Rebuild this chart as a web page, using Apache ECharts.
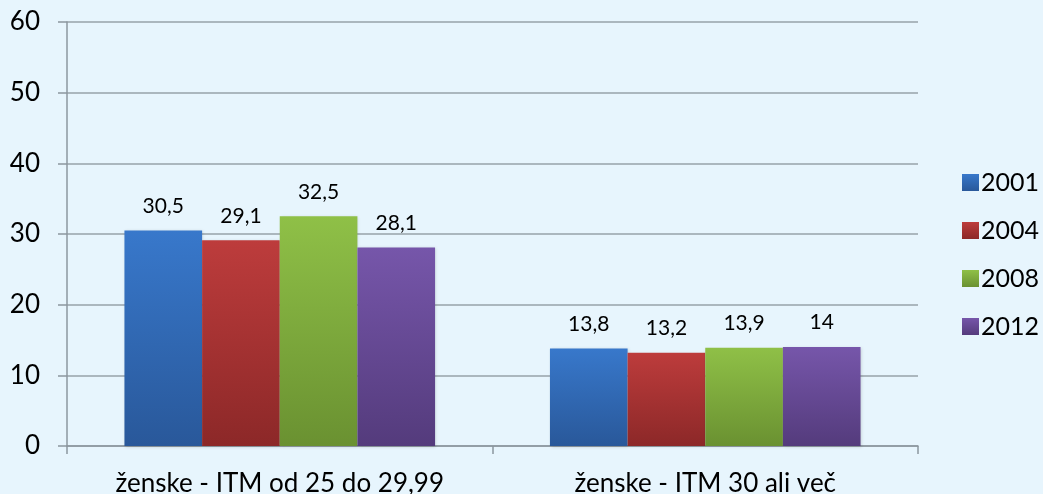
<!DOCTYPE html>
<html>
<head>
<meta charset="utf-8">
<script src="https://cdn.jsdelivr.net/npm/echarts@6/dist/echarts.min.js"></script>
<style>
  html, body { margin: 0; padding: 0; background: #e7f5fd; }
  #chart { width: 1043px; height: 494px; }
</style>
</head>
<body>
<div id="chart"></div>
<script>
// kategorije in vrednosti
const categories = ['ženske - ITM od 25 do 29,99', 'ženske - ITM 30 ali več'];
const years = ['2001', '2004', '2008', '2012'];
const values = [
  [30.5, 13.8],
  [29.1, 13.2],
  [32.5, 13.9],
  [28.1, 14]
];
const yTicks = [0, 10, 20, 30, 40, 50, 60];

// barve: zgoraj svetlejša, spodaj temnejša
const colorsTop = ['#3878cb', '#bd3c3c', '#8fc047', '#7656aa'];
const colorsBottom = ['#29589a', '#8c2828', '#6a9131', '#543b7c'];

const chart = echarts.init(document.getElementById('chart'));

const series = years.map((y, i) => ({
  name: y,
  type: 'bar',
  data: values[i],
  barGap: '0%',
  barCategoryGap: '27%',
  itemStyle: {
    color: new echarts.graphic.LinearGradient(0, 0, 0, 1, [
      { offset: 0, color: colorsTop[i] },
      { offset: 1, color: colorsBottom[i] }
    ]),
    shadowColor: 'rgba(0,0,0,0.15)',
    shadowBlur: 3,
    shadowOffsetX: 1,
    shadowOffsetY: 1
  },
  label: {
    show: true,
    position: 'top',
    distance: 14,
    color: '#000',
    fontFamily: 'Lato',
    fontSize: 21,
    formatter: p => String(p.value).replace('.', ',')
  }
}));

const option = {
  backgroundColor: '#e7f5fd',
  animation: false,
  grid: { left: 67, right: 125, top: 22, bottom: 48, outerBoundsMode: 'none', containLabel: false },
  legend: {
    orient: 'vertical',
    left: 957,
    top: 165,
    itemWidth: 17,
    itemHeight: 17,
    itemGap: 23,
    icon: 'rect',
    textStyle: { fontFamily: 'Lato', fontSize: 25, color: '#000', padding: [0, 0, 0, -3] },
    data: years
  },
  xAxis: {
    type: 'category',
    data: categories,
    axisLine: { lineStyle: { color: '#8c979f', width: 1.5 } },
    axisTick: { show: true, length: 8, lineStyle: { color: '#8c979f', width: 1.5 } },
    axisLabel: { interval: 0, fontFamily: 'Lato', fontSize: 26, color: '#000', margin: 25 }
  },
  yAxis: {
    type: 'value',
    min: yTicks[0],
    max: yTicks[yTicks.length - 1],
    interval: 10,
    axisLine: { show: true, lineStyle: { color: '#8c979f', width: 1.5 } },
    axisTick: { show: true, length: 9, lineStyle: { color: '#8c979f', width: 1.5 } },
    splitLine: { lineStyle: { color: '#97a2a9', width: 1.5 } },
    axisLabel: { fontFamily: 'Lato', fontSize: 26, color: '#000', margin: 27 }
  },
  series
};

chart.setOption(option);
</script>
</body>
</html>
